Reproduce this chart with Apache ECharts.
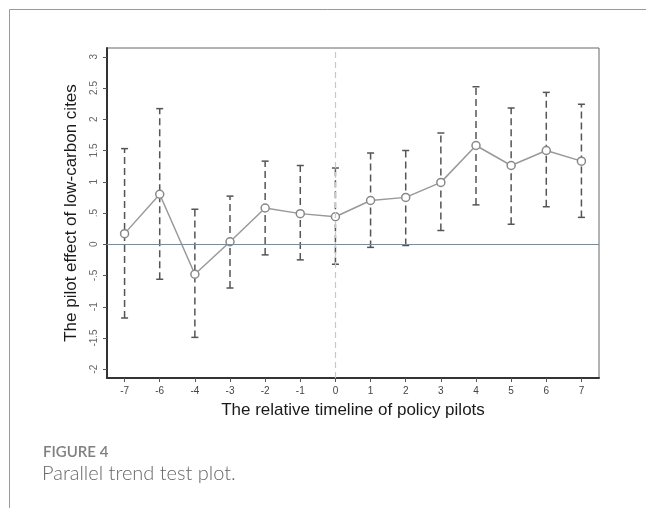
<!DOCTYPE html>
<html>
<head>
<meta charset="utf-8">
<script src="https://cdn.jsdelivr.net/npm/echarts@6/dist/echarts.min.js"></script>
<style>html,body{margin:0;padding:0;background:#fff}#c{width:646px;height:508px}</style>
</head>
<body>
<div id="c"></div>
<script>
const categories = ['-7','-6','-4','-3','-2','-1','0','1','2','3','4','5','6','7'];
const estimates = [0.17, 0.80, -0.48, 0.04, 0.58, 0.49, 0.44, 0.70, 0.75, 0.99, 1.58, 1.26, 1.50, 1.33];
const lowerCI   = [-1.18, -0.56, -1.49, -0.70, -0.17, -0.25, -0.32, -0.05, -0.02, 0.22, 0.63, 0.32, 0.60, 0.43];
const upperCI   = [1.53, 2.17, 0.56, 0.77, 1.33, 1.26, 1.22, 1.46, 1.50, 1.78, 2.52, 2.18, 2.43, 2.24];
const yTicks = [-2, -1.5, -1, -0.5, 0, 0.5, 1, 1.5, 2, 2.5, 3];
const yTickLabels = ['-2', '-1.5', '-1', '-.5', '0', '.5', '1', '1.5', '2', '2.5', '3'];

const chart = echarts.init(document.getElementById('c'), null, {renderer: 'canvas'});
const errData = categories.map((c, i) => [i, lowerCI[i], upperCI[i]]);

chart.setOption({
  animation: false,
  backgroundColor: '#fff',
  grid: {left: 107, top: 48, right: 47, bottom: 130, show: true, borderColor: '#666', borderWidth: 1, backgroundColor: 'transparent'},
  xAxis: {
    type: 'category',
    data: categories,
    boundaryGap: true,
    name: 'The relative timeline of policy pilots',
    nameLocation: 'middle',
    nameGap: 24,
    nameTextStyle: {fontFamily: 'Liberation Sans', fontSize: 17, color: '#1a1a1a'},
    axisLine: {show: true, onZero: false, lineStyle: {color: '#333', width: 2}},
    axisTick: {show: true, alignWithLabel: true, length: 4, lineStyle: {color: '#555'}},
    axisLabel: {fontFamily: 'Liberation Sans', fontSize: 10, color: '#444', margin: 8},
    splitLine: {show: false}
  },
  yAxis: {
    type: 'value',
    min: -2.14,
    max: 3.14,
    name: 'The pilot effect of low-carbon cites',
    nameLocation: 'middle',
    nameGap: 27,
    nameRotate: 90,
    nameTextStyle: {fontFamily: 'Liberation Sans', fontSize: 17, color: '#1a1a1a'},
    axisLine: {show: true, onZero: false, lineStyle: {color: '#333', width: 2}},
    axisTick: {show: true, length: 4, customValues: yTicks, lineStyle: {color: '#555'}},
    axisLabel: {
      customValues: yTicks,
      rotate: 90,
      fontFamily: 'Liberation Sans', fontSize: 10, color: '#666', margin: 8,
      formatter: function (v) {
        const i = yTicks.findIndex(t => Math.abs(t - v) < 1e-6);
        return i >= 0 ? yTickLabels[i] : '';
      }
    },
    splitLine: {show: false}
  },
  series: [
    {
      type: 'custom',
      data: errData,
      encode: {x: 0, y: [1, 2]},
      z: 2,
      silent: true,
      renderItem: function (params, api) {
        const x = api.value(0);
        const lo = api.coord([x, api.value(1)]);
        const hi = api.coord([x, api.value(2)]);
        const cap = 3.5;
        const st = {stroke: '#555', lineWidth: 1.5};
        return {
          type: 'group',
          children: [
            {type: 'line', shape: {x1: lo[0], y1: lo[1], x2: hi[0], y2: hi[1]}, style: Object.assign({lineDash: [7, 4]}, st)},
            {type: 'line', shape: {x1: lo[0] - cap, y1: lo[1], x2: lo[0] + cap, y2: lo[1]}, style: st},
            {type: 'line', shape: {x1: hi[0] - cap, y1: hi[1], x2: hi[0] + cap, y2: hi[1]}, style: st}
          ]
        };
      }
    },
    {
      type: 'line',
      data: estimates,
      z: 3,
      symbol: 'circle',
      symbolSize: 8,
      lineStyle: {color: '#999', width: 1.5},
      itemStyle: {color: '#fff', borderColor: '#888', borderWidth: 1.5},
      markLine: {
        silent: true,
        symbol: 'none',
        label: {show: false},
        data: [
          {xAxis: '0', lineStyle: {color: '#c8c8c8', type: [6, 4], width: 1.2}},
          {yAxis: 0, lineStyle: {color: '#6f8ea8', type: 'solid', width: 1}}
        ]
      }
    }
  ],
  graphic: [
    {type: 'line', shape: {x1: 9.5, y1: 9.5, x2: 9.5, y2: 508}, style: {stroke: '#999', lineWidth: 1}},
    {type: 'line', shape: {x1: 9.5, y1: 9.5, x2: 646, y2: 9.5}, style: {stroke: '#999', lineWidth: 1}},
    {type: 'text', left: 43, top: 445, style: {text: 'FIGURE 4', fontFamily: 'Lato', fontSize: 15, fontWeight: 600, fill: '#808080'}},
    {type: 'text', left: 42, top: 464, style: {text: 'Parallel trend test plot.', fontFamily: 'Lato', fontSize: 20, fontWeight: 300, fill: '#666'}}
  ]
});
</script>
</body>
</html>
